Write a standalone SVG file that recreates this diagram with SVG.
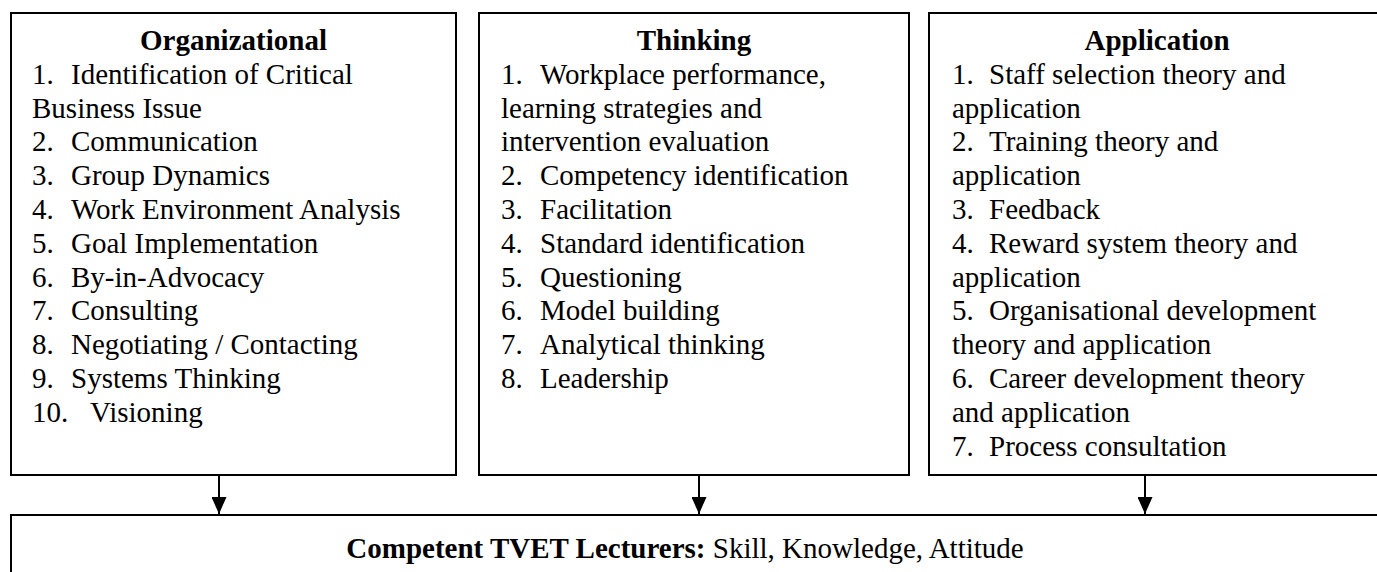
<svg xmlns="http://www.w3.org/2000/svg" width="1377" height="572" viewBox="0 0 1377 572">
  <style>
    .box { fill: #fff; stroke: #000; stroke-width: 2; }
    .t { font-family: "Liberation Serif", "Times New Roman", serif; font-size: 29px; fill: #000; }
    .h { font-weight: bold; text-anchor: middle; }
    .b { font-weight: bold; }
    .wire { stroke: #000; stroke-width: 2; fill: none; }
  </style>
  <defs>
    <marker id="arrowhead" viewBox="0 0 17 15" refX="17" refY="7.5" markerWidth="17" markerHeight="15" markerUnits="userSpaceOnUse" orient="auto">
      <path d="M0 0 L17 7.5 L0 15 Z" fill="#000"/>
    </marker>
  </defs>
  <rect width="1377" height="572" fill="#fff"/>

  <!-- Organizational competencies -->
  <g id="organizational">
    <rect class="box" x="11" y="13" width="445" height="462"/>
    <text class="t h" x="233.5" y="50">Organizational</text>
    <text class="t" y="83.8"><tspan x="32">1.</tspan><tspan x="71">Identification of Critical</tspan></text>
    <text class="t" x="32" y="117.6">Business Issue</text>
    <text class="t" y="151.4"><tspan x="32">2.</tspan><tspan x="71">Communication</tspan></text>
    <text class="t" y="185.2"><tspan x="32">3.</tspan><tspan x="71">Group Dynamics</tspan></text>
    <text class="t" y="219"><tspan x="32">4.</tspan><tspan x="71">Work Environment Analysis</tspan></text>
    <text class="t" y="252.8"><tspan x="32">5.</tspan><tspan x="71">Goal Implementation</tspan></text>
    <text class="t" y="286.6"><tspan x="32">6.</tspan><tspan x="71">By-in-Advocacy</tspan></text>
    <text class="t" y="320.4"><tspan x="32">7.</tspan><tspan x="71">Consulting</tspan></text>
    <text class="t" y="354.2"><tspan x="32">8.</tspan><tspan x="71">Negotiating / Contacting</tspan></text>
    <text class="t" y="388"><tspan x="32">9.</tspan><tspan x="71">Systems Thinking</tspan></text>
    <text class="t" y="421.8"><tspan x="32">10.</tspan><tspan x="90">Visioning</tspan></text>
  </g>

  <!-- Thinking competencies -->
  <g id="thinking">
    <rect class="box" x="479" y="13" width="430" height="462"/>
    <text class="t h" x="694" y="50">Thinking</text>
    <text class="t" y="83.8"><tspan x="501">1.</tspan><tspan x="540">Workplace performance,</tspan></text>
    <text class="t" x="501" y="117.6">learning strategies and</text>
    <text class="t" x="501" y="151.4">intervention evaluation</text>
    <text class="t" y="185.2"><tspan x="501">2.</tspan><tspan x="540">Competency identification</tspan></text>
    <text class="t" y="219"><tspan x="501">3.</tspan><tspan x="540">Facilitation</tspan></text>
    <text class="t" y="252.8"><tspan x="501">4.</tspan><tspan x="540">Standard identification</tspan></text>
    <text class="t" y="286.6"><tspan x="501">5.</tspan><tspan x="540">Questioning</tspan></text>
    <text class="t" y="320.4"><tspan x="501">6.</tspan><tspan x="540">Model building</tspan></text>
    <text class="t" y="354.2"><tspan x="501">7.</tspan><tspan x="540">Analytical thinking</tspan></text>
    <text class="t" y="388"><tspan x="501">8.</tspan><tspan x="540">Leadership</tspan></text>
  </g>

  <!-- Application competencies -->
  <g id="application">
    <rect class="box" x="929" y="13" width="456" height="462"/>
    <text class="t h" x="1157" y="50">Application</text>
    <text class="t" y="83.8"><tspan x="952">1.</tspan><tspan x="989">Staff selection theory and</tspan></text>
    <text class="t" x="952" y="117.6">application</text>
    <text class="t" y="151.4"><tspan x="952">2.</tspan><tspan x="989">Training theory and</tspan></text>
    <text class="t" x="952" y="185.2">application</text>
    <text class="t" y="219"><tspan x="952">3.</tspan><tspan x="989">Feedback</tspan></text>
    <text class="t" y="252.8"><tspan x="952">4.</tspan><tspan x="989">Reward system theory and</tspan></text>
    <text class="t" x="952" y="286.6">application</text>
    <text class="t" y="320.4"><tspan x="952">5.</tspan><tspan x="989">Organisational development</tspan></text>
    <text class="t" x="952" y="354.2">theory and application</text>
    <text class="t" y="388"><tspan x="952">6.</tspan><tspan x="989">Career development theory</tspan></text>
    <text class="t" x="952" y="421.8">and application</text>
    <text class="t" y="455.6"><tspan x="952">7.</tspan><tspan x="989">Process consultation</tspan></text>
  </g>

  <!-- Outcome -->
  <g id="outcome">
    <rect class="box" x="11" y="515" width="1380" height="70"/>
    <text class="t" x="685" y="558" text-anchor="middle"><tspan class="b">Competent TVET Lecturers:</tspan> Skill, Knowledge, Attitude</text>
  </g>

  <!-- Connectors -->
  <g id="connectors">
    <line class="wire" x1="219" y1="476" x2="219" y2="514" marker-end="url(#arrowhead)"/>
    <line class="wire" x1="699" y1="476" x2="699" y2="514" marker-end="url(#arrowhead)"/>
    <line class="wire" x1="1145" y1="476" x2="1145" y2="514" marker-end="url(#arrowhead)"/>
  </g>
</svg>
